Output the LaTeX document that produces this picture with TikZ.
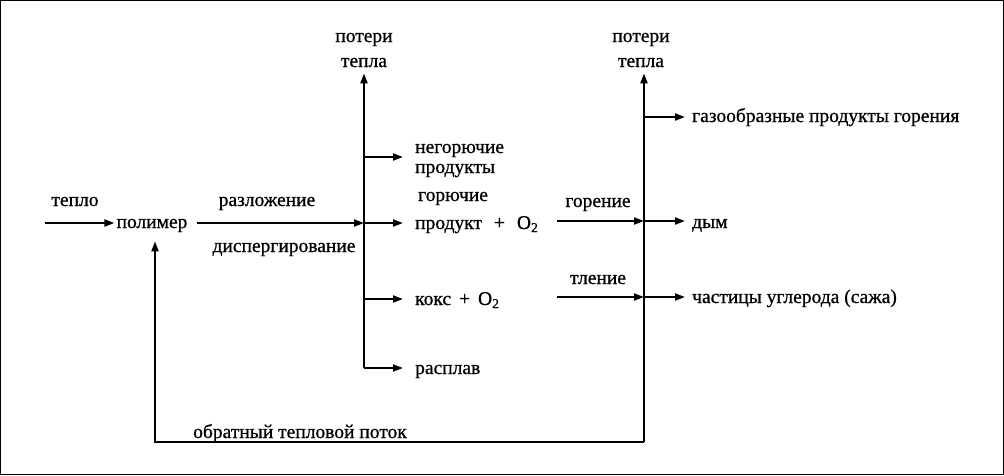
\documentclass[tikz,border=0pt]{standalone}
\usepackage{fontspec}
\setmainfont{Liberation Serif}
\newfontfamily\flowfont{Liberation Serif}[FakeBold=0.8]
\usetikzlibrary{arrows.meta,positioning}
\definecolor{flowcolor}{RGB}{0,0,0}
\definecolor{textcolor}{RGB}{0,0,0}
\tikzset{
flowtext/.style={
  font=\flowfont\fontsize{19.5}{24}\selectfont,
  inner sep=0pt,
  text=textcolor
},
lefttext/.style={
  flowtext,
  anchor=base west
},
midtext/.style={
  flowtext,
  anchor=base
},
flowline/.style={
  line width=2pt,
  draw=flowcolor
},
arrow/.style={
  flowline,
  -{Triangle[length=10pt,width=7pt]}
},
branch/.style={
  arrow,
  shorten >=12pt
},
outbranch/.style={
  arrow,
  shorten >=7pt
}
}

\begin{document}
\begin{tikzpicture}[x=1pt,y=-1pt]
\useasboundingbox (0,0) rectangle (1004,475);
\draw[line width=1pt] (0.5,0.5) rectangle (1003.5,474.5);

% polymer and decomposition
\node[midtext] (teplo) at (75,206) {тепло};
\node[midtext] (polimer) at (152,228) {полимер};
\node[midtext] (razl) at (267,206) {разложение};
\node[midtext] (disp) at (284,252) {диспергирование};

% first heat loss column
\node[midtext] (loss1top) at (364,42) {потери};
\node[midtext] (loss1) at (364,67) {тепла};
\node[lefttext] (negor) at (415,153) {негорючие};
\node[lefttext] (negorb) at (415,173) {продукты};
\node[lefttext] (goryuch) at (418,201) {горючие};
\node[lefttext] (prod) at (415,229) {продукт\hspace{12pt}+\hspace{12pt}O\textsubscript{2}};
\node[lefttext] (koks) at (415,305) {кокс\hspace{8pt}+\hspace{8pt}O\textsubscript{2}};
\node[lefttext] (rasplav) at (415,374) {расплав};

% second heat loss column
\node[midtext] (gorenie) at (598,207) {горение};
\node[midtext] (tlenie) at (598,284) {тление};
\node[midtext] (loss2top) at (641,42) {потери};
\node[midtext] (loss2) at (641,67) {тепла};
\node[lefttext] (gaz) at (692,122) {газообразные продукты горения};
\node[lefttext] (dym) at (692,228) {дым};
\node[lefttext] (sazha) at (692,303) {частицы углерода (сажа)};
\node[midtext] (obrat) at (300,438) {обратный тепловой поток};

\coordinate (heatin) at (45,223);
\coordinate (v1mid) at (364,223);
\coordinate (v1neg) at (364,157);
\coordinate (v1koks) at (364,299);
\coordinate (v1bot) at (364,368);
\coordinate (burnin) at (557,221);
\coordinate (smoulin) at (557,297);
\coordinate (v2gaz) at (644,117);
\coordinate (v2burn) at (644,221);
\coordinate (v2smoul) at (644,297);
\coordinate (v2bot) at (644,442);
\coordinate (backcorner) at (155,442);

\draw[arrow, shorten >=2pt] (heatin) -- (heatin -| polimer.west);
\draw[arrow, shorten <=9pt] (polimer.east |- v1mid) -- (v1mid);
\draw[arrow, shorten >=6pt] (v1bot) -- (v1bot |- loss1.south);
\draw[branch] (v1neg) -- (v1neg -| negor.west);
\draw[branch] (v1mid) -- (v1mid -| prod.west);
\draw[branch] (v1koks) -- (v1koks -| koks.west);
\draw[branch] (v1bot) -- (v1bot -| rasplav.west);

\draw[arrow] (burnin) -- (v2burn);
\draw[arrow] (smoulin) -- (v2smoul);
\draw[arrow, shorten >=6pt] (v2bot) -- (v2bot |- loss2.south);
\draw[outbranch] (v2gaz) -- (v2gaz -| gaz.west);
\draw[outbranch] (v2burn) -- (v2burn -| dym.west);
\draw[outbranch] (v2smoul) -- (v2smoul -| sazha.west);

\draw[arrow, shorten >=9pt] (v2bot) -- (backcorner) -- (backcorner |- polimer.south);
\end{tikzpicture}
\end{document}
